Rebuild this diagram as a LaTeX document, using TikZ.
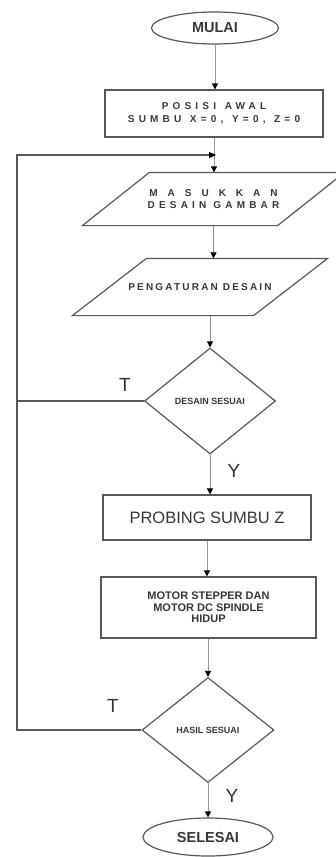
\documentclass[tikz,border=0pt]{standalone}
\usepackage{fontspec}
\setmainfont{Liberation Sans}
\newfontfamily\renggang[LetterSpace=42]{Liberation Sans}
\usepackage{tikz}
\usetikzlibrary{arrows.meta,shapes.geometric}
\definecolor{garis}{RGB}{88,88,88}
\definecolor{tipis}{RGB}{150,150,150}
\definecolor{teks}{RGB}{55,55,55}
\tikzset{every picture/.style={line width=1.2pt}}

\begin{document}
\begin{tikzpicture}[x=1pt,y=-1pt,
 terminal/.style={ellipse,draw=garis,inner sep=0pt,text=teks,
  minimum width=127pt,minimum height=32pt,font=\fontsize{14.5}{16}\selectfont\bfseries},
 proses/.style={rectangle,draw=garis,inner sep=0pt,text=teks,align=center},
 masukan/.style={rectangle,inner sep=0pt,text=teks,align=center},
 keputusan/.style={diamond,draw=garis,inner sep=0pt,text=teks,
  font=\fontsize{9}{10}\selectfont\bfseries},
 alur/.style={tipis,line width=.8pt,-{Triangle[width=6pt,length=6pt,color=black]}},
 balik/.style={garis,line width=1.2pt},
 jawab/.style={inner sep=0pt,text=black!80,font=\fontsize{19}{21}\selectfont}]
 \useasboundingbox (0,0) rectangle (335,857);
 \node[terminal] (mulai) at (215,28) {MULAI};
 \node[proses,minimum width=218pt,minimum height=47pt,
  font=\renggang\fontsize{10}{13}\selectfont\bfseries] (posisi) at (214,113.5)
  {POSISI\, AWAL\\SUMBU\, X=0,\, Y=0,\, Z=0};
 \node[masukan,minimum width=194pt,minimum height=52pt,
  font=\renggang\fontsize{10}{12}\selectfont\bfseries] (masuk) at (213.5,199)
  {{\addfontfeature{LetterSpace=100}MASUKKAN}\\DESAIN GAMBAR};
 \draw[garis] ([xshift=33.5pt]masuk.north west) -- ([xshift=33.5pt]masuk.north east)
  -- ([xshift=-33.5pt]masuk.south east) -- ([xshift=-33.5pt]masuk.south west) -- cycle;
 \node[masukan,minimum width=180pt,minimum height=56pt,
  font=\fontsize{10}{12}\selectfont\bfseries\addfontfeature{LetterSpace=22}] (atur) at (200,287)
  {PENGATURAN DESAIN};
 \draw[garis] ([xshift=37pt]atur.north west) -- ([xshift=37pt]atur.north east)
  -- ([xshift=-37pt]atur.south east) -- ([xshift=-37pt]atur.south west) -- cycle;
 \node[keputusan,minimum width=131pt,minimum height=106pt] (cek1) at (210,401) {DESAIN SESUAI};
 \node[proses,minimum width=208pt,minimum height=45pt,
  font=\fontsize{16.5}{18}\selectfont] (probing) at (207,517.5) {PROBING SUMBU Z};
 \node[proses,minimum width=215pt,minimum height=61pt,
  font=\fontsize{11}{11.7}\selectfont\bfseries] (motor) at (208.5,607.5)
  {MOTOR STEPPER DAN\\MOTOR DC SPINDLE\\HIDUP};
 \node[keputusan,minimum width=132pt,minimum height=105pt] (cek2) at (208,730) {HASIL SESUAI};
 \node[terminal,minimum width=130pt,minimum height=38pt] (selesai) at (208,837) {SELESAI};
 \node[jawab] (t1) at (125,385) {T};
 \node[jawab] (y1) at (234,471) {Y};
 \node[jawab] (t2) at (113,706) {T};
 \node[jawab] (y2) at (232,796) {Y};
 \coordinate (kiri) at (17,155);
 \coordinate (gabung) at (216,155);
 \draw[alur] (mulai.south) -- (mulai.south |- posisi.north);
 \draw[alur] (posisi.south) -- (posisi.south |- masuk.north);
 \draw[alur] (masuk.south) -- (masuk.south |- atur.north);
 \draw[alur] (cek1.north |- atur.south) -- (cek1.north);
 \draw[alur] (cek1.south) -- (cek1.south |- probing.north);
 \draw[alur] (probing.south) -- (probing.south |- motor.north);
 \draw[alur] (cek2.north |- motor.south) -- (cek2.north);
 \draw[alur] (cek2.south) -- (cek2.south |- selesai.north);
 \draw[balik] (cek1.west) -- (cek1.west -| kiri);
 \draw[balik,-{Triangle[width=6pt,length=7pt,color=black]}] (cek2.west) -| (kiri) -- (gabung);
\end{tikzpicture}
\end{document}
